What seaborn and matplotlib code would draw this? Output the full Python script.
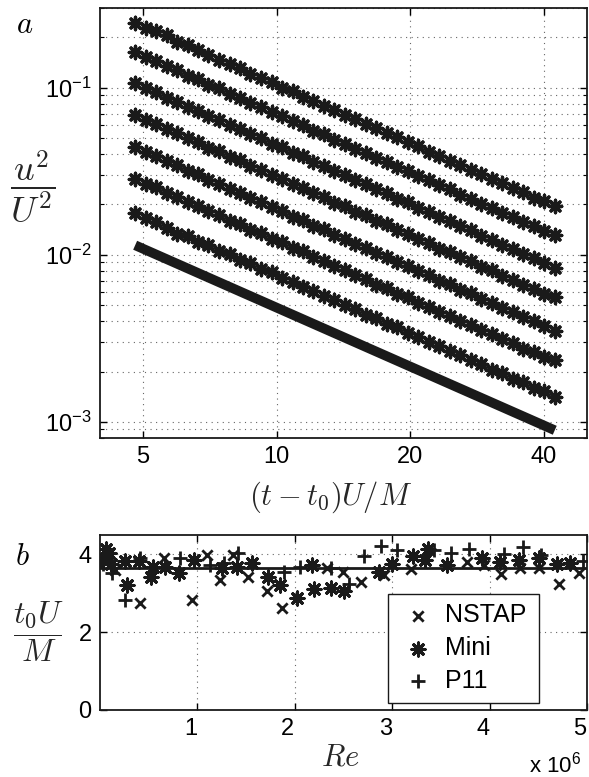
import numpy as np
import pandas as pd
import matplotlib
matplotlib.use('Agg')
import matplotlib.pyplot as plt
from matplotlib import ticker
from matplotlib.transforms import ScaledTranslation
import seaborn as sns

# ---- panel a: decay of u^2/U^2 for seven runs (offset vertically) ----
x_decay = [4.80, 5.07, 5.35, 5.65, 5.97, 6.30, 6.65, 7.02, 7.42, 7.83, 8.27,
           8.73, 9.22, 9.74, 10.28, 10.86, 11.46, 12.10, 12.78, 13.49, 14.25,
           15.04, 15.89, 16.77, 17.71, 18.70, 19.75, 20.85, 22.02, 23.25, 24.55,
           25.92, 27.37, 28.90, 30.52, 32.22, 34.02, 35.93, 37.93, 40.05, 42.29]

run1 = [0.244, 0.228, 0.217, 0.206, 0.189, 0.179, 0.167, 0.158, 0.146, 0.139, 0.131,
        0.121, 0.115, 0.108, 0.100, 0.0950, 0.0885, 0.0838, 0.0780, 0.0738, 0.0688,
        0.0650, 0.0606, 0.0573, 0.0535, 0.0505, 0.0470, 0.0445, 0.0415, 0.0392, 0.0366,
        0.0346, 0.0322, 0.0305, 0.0284, 0.0269, 0.0250, 0.0237, 0.0220, 0.0209, 0.0195]
run2 = [0.163, 0.152, 0.145, 0.134, 0.128, 0.118, 0.112, 0.104, 0.0990, 0.0920, 0.0870,
        0.0810, 0.0768, 0.0713, 0.0676, 0.0630, 0.0595, 0.0553, 0.0526, 0.0488, 0.0462,
        0.0430, 0.0408, 0.0379, 0.0359, 0.0334, 0.0317, 0.0295, 0.0279, 0.0260, 0.0246,
        0.0229, 0.0217, 0.0202, 0.0191, 0.0178, 0.0168, 0.0157, 0.0148, 0.0139, 0.0131]
run3 = [0.106, 0.0990, 0.0938, 0.0872, 0.0826, 0.0770, 0.0728, 0.0677, 0.0643, 0.0597, 0.0566,
        0.0526, 0.0499, 0.0463, 0.0440, 0.0408, 0.0388, 0.0360, 0.0341, 0.0317, 0.0301,
        0.0279, 0.0265, 0.0246, 0.0234, 0.0217, 0.0206, 0.0191, 0.0181, 0.0168, 0.0159,
        0.0148, 0.0140, 0.0130, 0.0123, 0.0115, 0.0108, 0.0101, 0.00950, 0.00890, 0.00830]
run4 = [0.0686, 0.0640, 0.0608, 0.0565, 0.0536, 0.0497, 0.0472, 0.0438, 0.0416, 0.0386, 0.0367,
        0.0340, 0.0323, 0.0300, 0.0285, 0.0264, 0.0251, 0.0233, 0.0221, 0.0205, 0.0195,
        0.0181, 0.0172, 0.0160, 0.0152, 0.0140, 0.0134, 0.0124, 0.0118, 0.0109, 0.0104,
        0.00965, 0.00915, 0.00850, 0.00805, 0.00750, 0.00710, 0.00660, 0.00625, 0.00585, 0.00556]
run5 = [0.0440, 0.0411, 0.0390, 0.0362, 0.0344, 0.0319, 0.0303, 0.0281, 0.0267, 0.0247, 0.0235,
        0.0218, 0.0207, 0.0192, 0.0183, 0.0169, 0.0161, 0.0149, 0.0142, 0.0131, 0.0125,
        0.0116, 0.0110, 0.0102, 0.00975, 0.00900, 0.00858, 0.00795, 0.00756, 0.00700, 0.00666,
        0.00617, 0.00587, 0.00543, 0.00517, 0.00480, 0.00456, 0.00423, 0.00401, 0.00374, 0.00352]
run6 = [0.0285, 0.0266, 0.0253, 0.0234, 0.0223, 0.0206, 0.0196, 0.0182, 0.0173, 0.0160, 0.0153,
        0.0141, 0.0135, 0.0124, 0.0119, 0.0110, 0.0105, 0.00968, 0.00922, 0.00852, 0.00812,
        0.00752, 0.00715, 0.00663, 0.00630, 0.00584, 0.00556, 0.00515, 0.00490, 0.00455, 0.00432,
        0.00400, 0.00381, 0.00353, 0.00336, 0.00311, 0.00296, 0.00274, 0.00261, 0.00243, 0.00236]
run7 = [0.0177, 0.0165, 0.0157, 0.0144, 0.0134, 0.0129, 0.0120, 0.0115, 0.0106, 0.0101, 0.00935,
        0.00890, 0.00825, 0.00785, 0.00726, 0.00690, 0.00640, 0.00609, 0.00564, 0.00537, 0.00497,
        0.00473, 0.00438, 0.00417, 0.00386, 0.00368, 0.00340, 0.00324, 0.00300, 0.00286, 0.00264,
        0.00252, 0.00233, 0.00222, 0.00205, 0.00195, 0.00181, 0.00172, 0.00160, 0.00152, 0.00141]
runs = [run1, run2, run3, run4, run5, run6, run7]

fit_x = [4.8, 42.3]
fit_y = [0.0114, 0.00089]

# ---- panel b: virtual origin t0 U/M against Re (Re in units of 1e6) ----
nstap_re = [0.05, 0.15, 0.41, 0.66, 0.94, 1.10, 1.23, 1.37, 1.52, 1.71, 1.87, 2.33,
            2.49, 2.68, 2.92, 3.19, 3.77, 3.94, 4.12, 4.31, 4.51, 4.71, 4.92]
nstap_t0 = [3.80, 3.60, 2.76, 3.90, 2.83, 3.99, 3.35, 3.99, 3.41, 3.05, 2.62, 3.65,
            3.56, 3.28, 3.47, 3.63, 3.80, 3.73, 3.50, 3.65, 3.65, 3.25, 3.52]
mini_re = [0.03, 0.06, 0.09, 0.11, 0.26, 0.28, 0.40, 0.52, 0.54, 0.67, 0.81, 0.96,
           1.25, 1.41, 1.56, 1.72, 1.85, 2.02, 2.18, 2.20, 2.37, 2.51, 2.86, 3.00,
           3.21, 3.34, 3.37, 3.56, 3.92, 4.11, 4.30, 4.51, 4.69, 4.83]
mini_t0 = [3.85, 4.15, 4.05, 3.75, 3.82, 3.22, 3.82, 3.43, 3.69, 3.69, 3.52, 3.86,
           3.65, 3.69, 3.77, 3.43, 3.22, 2.87, 3.73, 3.11, 3.13, 3.05, 3.54, 3.75,
           3.97, 3.86, 4.14, 3.73, 3.92, 3.80, 3.86, 3.92, 3.75, 3.78]
p11_re = [0.03, 0.12, 0.26, 0.41, 0.82, 1.13, 1.27, 1.42, 1.89, 2.05, 2.37, 2.56,
          2.71, 2.88, 3.05, 3.43, 3.60, 3.79, 4.15, 4.34, 4.53, 4.96]
p11_t0 = [3.75, 3.52, 2.83, 3.92, 3.92, 3.73, 3.77, 4.03, 3.56, 3.67, 3.65, 3.24,
          3.95, 4.22, 4.12, 4.12, 4.03, 4.14, 4.01, 4.20, 3.99, 3.82]
t0_mean = 3.65

decay = pd.DataFrame({
    'x': np.tile(x_decay, len(runs)),
    'y': np.concatenate(runs),
    'run': np.repeat(np.arange(1, len(runs) + 1), len(x_decay)),
})

sns.set_theme(style='white')
plt.rcParams.update({
    'font.family': ['Liberation Sans', 'DejaVu Sans'],
    'mathtext.fontset': 'custom',
    'mathtext.rm': 'Liberation Sans',
    'mathtext.it': 'Liberation Sans:italic',
    'mathtext.bf': 'Liberation Sans:bold',
    'axes.edgecolor': 'black',
    'axes.linewidth': 1.3,
    'text.color': 'black',
    'xtick.color': 'black',
    'ytick.color': 'black',
})

W, H = 589, 777
fig = plt.figure(figsize=(W / 100, H / 100), dpi=100)
ax1 = fig.add_axes([100 / W, 1 - 438 / H, 487 / W, 430 / H])
ax2 = fig.add_axes([100 / W, 1 - 710 / H, 487 / W, 175 / H])

asterisk = (8, 2, 0)
grid_kw = dict(color='0.4', linestyle=(0, (1, 4)), linewidth=0.8)

# panel a
sns.scatterplot(data=decay, x='x', y='y', ax=ax1,
                marker=asterisk, s=80, color='k', linewidth=2.4, legend=False)
sns.lineplot(x=fit_x, y=fit_y, ax=ax1, color='k', linewidth=7,
             solid_capstyle='butt', legend=False)
ax1.set_xscale('log')
ax1.set_yscale('log')
ax1.set_xlim(4, 50)
ax1.set_ylim(8e-4, 0.3)
ax1.xaxis.set_major_locator(ticker.FixedLocator([5, 10, 20, 40]))
ax1.xaxis.set_major_formatter(ticker.FormatStrFormatter('%g'))
ax1.xaxis.set_minor_locator(ticker.NullLocator())
ax1.yaxis.set_major_locator(ticker.LogLocator(base=10, numticks=10))
ax1.yaxis.set_minor_locator(ticker.LogLocator(base=10, subs=np.arange(2, 10), numticks=20))
ax1.yaxis.set_minor_formatter(ticker.NullFormatter())
ax1.grid(True, which='major', **grid_kw)
ax1.grid(True, which='minor', axis='y', **grid_kw)
ax1.set_xlabel(r'$(t-t_0)U/M$', fontsize=22, math_fontfamily='cm', va='center')
ax1.xaxis.set_label_coords(0.474, -0.137)
ax1.set_ylabel(r'$\dfrac{u^2}{U^2}$', fontsize=26, math_fontfamily='cm',
               rotation=0, ha='center', va='center')
ax1.yaxis.set_label_coords(-0.137, 0.584)

# panel b
sns.scatterplot(x=nstap_re, y=nstap_t0, ax=ax2, marker='x', s=55, color='k',
                linewidth=2, label='NSTAP')
sns.scatterplot(x=mini_re, y=mini_t0, ax=ax2, marker=asterisk, s=90, color='k',
                linewidth=2.2, label='Mini')
sns.scatterplot(x=p11_re, y=p11_t0, ax=ax2, marker='+', s=110, color='k',
                linewidth=2, label='P11')
ax2.axhline(t0_mean, color='k', linewidth=2)
ax2.set_xlim(0, 5)
ax2.set_ylim(0, 4.5)
ax2.xaxis.set_major_locator(ticker.FixedLocator([1, 2, 3, 4, 5]))
ax2.yaxis.set_major_locator(ticker.FixedLocator([0, 2, 4]))
ax2.grid(True, which='major', **grid_kw)
ax2.set_xlabel(r'$Re$', fontsize=22, math_fontfamily='cm', va='center')
ax2.xaxis.set_label_coords(0.493, -0.269)
ax2.set_ylabel(r'$\dfrac{t_0U}{M}$', fontsize=23, math_fontfamily='cm',
               rotation=0, ha='center', va='center')
ax2.yaxis.set_label_coords(-0.127, 0.446)
leg = ax2.legend(loc='lower left', bbox_to_anchor=(0.591, 0.04, 0.31, 0.66),
                 mode='expand', fontsize=18, frameon=True, fancybox=False,
                 edgecolor='k', framealpha=1, borderpad=0.4, labelspacing=0.35,
                 handlelength=1.6, handletextpad=0.3, borderaxespad=0)
leg.get_frame().set_linewidth(1.0)

for ax in (ax1, ax2):
    ax.set_axisbelow(True)
    ax.tick_params(which='both', direction='in', top=True, right=True,
                   bottom=True, left=True, labelsize=17, pad=6)
    ax.tick_params(which='major', length=5, width=1)
    ax.tick_params(which='minor', length=3, width=0.8)
    for sp in ax.spines.values():
        sp.set_visible(True)
        sp.set_color('k')

# bottom tick labels sit a little left of their ticks in the original
shift = ScaledTranslation(-7 / 100, 0, fig.dpi_scale_trans)
for lab in ax2.get_xticklabels():
    lab.set_transform(lab.get_transform() + shift)

fig.text(25 / W, 1 - 25 / H, r'$a$', fontsize=22, math_fontfamily='cm',
         ha='center', va='center')
fig.text(22 / W, 1 - 557 / H, r'$b$', fontsize=22, math_fontfamily='cm',
         ha='center', va='center')
fig.text(555 / W, 1 - 765 / H, r'x 10$^{6}$', fontsize=16, ha='center', va='center')

fig.savefig('out.png', dpi=100)
